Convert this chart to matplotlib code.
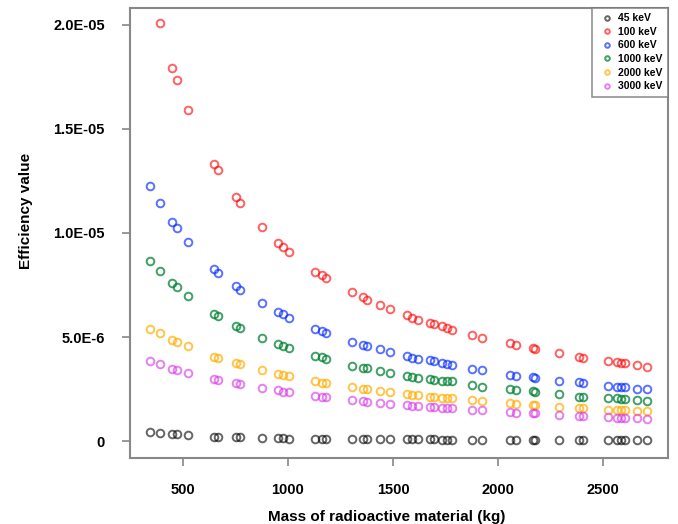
import matplotlib
matplotlib.use('Agg')
import matplotlib.pyplot as plt
import numpy as np

# mass of radioactive material (kg)
mass = [345, 392, 449, 473, 525, 648, 667, 752, 771, 876, 951, 975, 1004,
        1131, 1160, 1183, 1307, 1359, 1378, 1439, 1487, 1567, 1591, 1619,
        1676, 1695, 1733, 1757, 1780, 1875, 1922, 2055, 2084, 2164, 2178,
        2292, 2386, 2405, 2524, 2567, 2586, 2605, 2661, 2709]

# efficiency values, in units of 1e-6
eff_45 = [0.43, 0.38, 0.34, 0.34, 0.29, 0.19, 0.19, 0.19, 0.19, 0.14, 0.14,
          0.14, 0.12, 0.11, 0.11, 0.11, 0.10, 0.10, 0.10, 0.10, 0.09, 0.09,
          0.09, 0.09, 0.09, 0.09, 0.08, 0.08, 0.08, 0.08, 0.08, 0.07, 0.07,
          0.07, 0.07, 0.07, 0.06, 0.06, 0.06, 0.06, 0.06, 0.06, 0.06, 0.05]
eff_100 = [np.nan, 20.10, 17.93, 17.36, 15.91, 13.32, 13.03, 11.73, 11.44,
           10.29, 9.52, 9.33, 9.09, 8.13, 7.98, 7.84, 7.16, 6.92, 6.78, 6.54,
           6.35, 6.06, 5.91, 5.82, 5.67, 5.63, 5.53, 5.43, 5.34, 5.10, 4.95,
           4.71, 4.62, 4.47, 4.42, 4.23, 4.04, 3.99, 3.85, 3.80, 3.75, 3.75,
           3.65, 3.56]
eff_600 = [12.26, 11.44, 10.53, 10.24, 9.57, 8.27, 8.08, 7.45, 7.26, 6.64,
           6.20, 6.11, 5.91, 5.38, 5.29, 5.19, 4.76, 4.62, 4.57, 4.42, 4.28,
           4.09, 3.99, 3.94, 3.89, 3.85, 3.75, 3.70, 3.65, 3.46, 3.41, 3.17,
           3.13, 3.08, 3.03, 2.88, 2.84, 2.79, 2.64, 2.60, 2.60, 2.60, 2.50,
           2.50]
eff_1000 = [8.65, 8.17, 7.60, 7.40, 6.97, 6.11, 6.01, 5.53, 5.43, 4.95, 4.66,
            4.57, 4.47, 4.09, 4.04, 3.94, 3.61, 3.51, 3.51, 3.37, 3.27, 3.13,
            3.08, 3.03, 2.98, 2.93, 2.88, 2.88, 2.88, 2.69, 2.60, 2.50, 2.45,
            2.40, 2.36, 2.26, 2.12, 2.12, 2.07, 2.07, 2.02, 2.02, 1.97, 1.92]
eff_2000 = [5.38, 5.19, 4.86, 4.76, 4.57, 4.04, 3.99, 3.75, 3.70, 3.41, 3.22,
            3.17, 3.13, 2.88, 2.79, 2.79, 2.60, 2.50, 2.50, 2.40, 2.36, 2.26,
            2.21, 2.21, 2.12, 2.12, 2.07, 2.07, 2.07, 1.97, 1.92, 1.83, 1.78,
            1.73, 1.73, 1.63, 1.59, 1.59, 1.49, 1.49, 1.49, 1.49, 1.44, 1.44]
eff_3000 = [3.85, 3.70, 3.46, 3.41, 3.27, 2.98, 2.93, 2.79, 2.74, 2.55, 2.45,
            2.36, 2.36, 2.16, 2.12, 2.12, 1.97, 1.92, 1.88, 1.83, 1.78, 1.73,
            1.68, 1.68, 1.63, 1.63, 1.59, 1.59, 1.59, 1.49, 1.49, 1.39, 1.35,
            1.35, 1.35, 1.25, 1.20, 1.20, 1.15, 1.11, 1.11, 1.11, 1.11, 1.06]

labels = ['45 keV', '100 keV', '600 keV', '1000 keV', '2000 keV', '3000 keV']
series = [eff_45, eff_100, eff_600, eff_1000, eff_2000, eff_3000]
colors = [(0, 0, 0, 0.6), (1, 0, 0, 0.62), (0, 0.15, 1, 0.65),
          (0, 0.5, 0.2, 0.75), (1, 0.68, 0, 0.7), (0.85, 0.2, 0.9, 0.62)]

plt.rcParams['font.family'] = ['Liberation Sans', 'DejaVu Sans']

fig = plt.figure(figsize=(6.78, 5.24), dpi=100)
ax = fig.add_axes([130/678, 1 - 458/524, 538/678, 450/524])

for vals, lab, col in zip(series, labels, colors):
    ax.plot(mass, np.array(vals) * 1e-6, linestyle='none', marker='o',
            markersize=5.5, markerfacecolor='none', markeredgecolor=col,
            markeredgewidth=1.4, label=lab)

ax.set_xlim(248, 2809)
ax.set_ylim(-8e-7, 2.08e-5)
ax.set_xticks([500, 1000, 1500, 2000, 2500])
ax.set_xticklabels(['500', '1000', '1500', '2000', '2500'],
                   fontsize=10.5, fontweight='bold')
ax.set_yticks([0, 5e-6, 1e-5, 1.5e-5, 2e-5])
ax.set_yticklabels(['0', '5.0E-6', '1.0E-05', '1.5E-05', '2.0E-05'],
                   fontsize=10.5, fontweight='bold')
ax.tick_params(direction='out', length=6, width=1.2, color='#888888', pad=12)
for sp in ax.spines.values():
    sp.set_color('#888888')
    sp.set_linewidth(1.5)

ax.set_xlabel('Mass of radioactive material (kg)', fontsize=11, fontweight='bold')
ax.set_ylabel('Efficiency value', fontsize=11, fontweight='bold')
ax.xaxis.set_label_coords(0.478, -0.115)
ax.yaxis.set_label_coords(-0.18, 0.55)

leg = ax.legend(loc='upper right', frameon=True, fancybox=False,
                borderaxespad=0, markerscale=0.6, handletextpad=0.2,
                labelspacing=0.35, handlelength=1.8, borderpad=0.5,
                prop={'weight': 'bold', 'size': 7.5})
leg.get_frame().set_edgecolor('#777777')
leg.get_frame().set_linewidth(1.2)

plt.savefig('out.png', dpi=100)
